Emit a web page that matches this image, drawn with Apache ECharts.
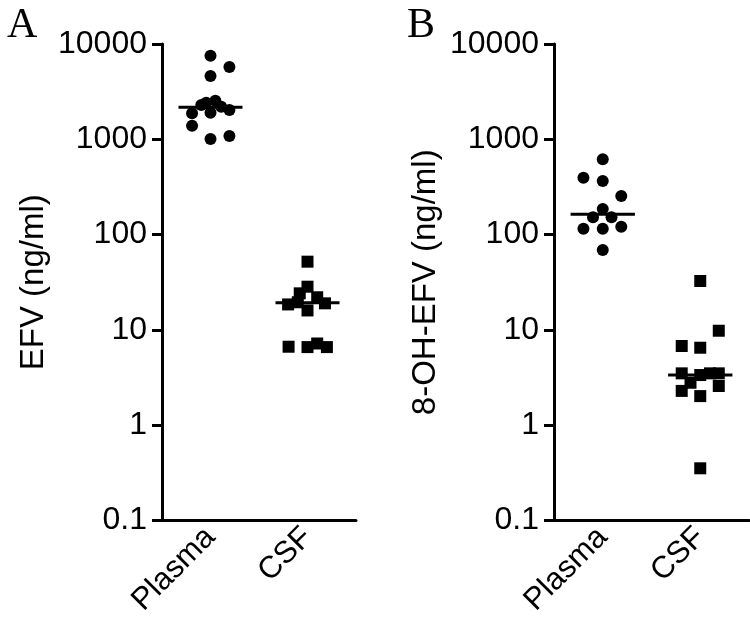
<!DOCTYPE html>
<html><head><meta charset="utf-8">
<script src="https://cdn.jsdelivr.net/npm/echarts@6/dist/echarts.min.js"></script>
<style>html,body{margin:0;padding:0;background:#fff}#c{width:750px;height:623px}</style>
</head><body><div id="c"></div><script>
// ---- data ----
const categories = ['Plasma', 'CSF'];
const yTickLabels = ['0.1', '1', '10', '100', '1000', '10000'];
const panelLetters = ['A', 'B'];
const yNames = ['EFV (ng/ml)', '8-OH-EFV (ng/ml)'];
// [jitter within category (category units), value ng/ml]
const efvPlasma = [[0, 7540], [0.195, 5740], [0, 4620], [0.05, 2541], [-0.044, 2421], [-0.095, 2291], [0.11, 2198], [0.195, 2030], [0, 1901], [-0.19, 1875], [-0.19, 1390], [0.195, 1083], [0, 1007]];
const efvCSF = [[0, 52], [0, 28.4], [-0.08, 24.2], [0.1, 22], [-0.2, 18.5], [-0.1, 19.5], [0.18, 19], [0, 16], [-0.195, 6.66], [0, 6.6], [0.1, 7.2], [0.2, 6.6]];
const ohPlasma = [[0, 617], [-0.198, 395], [0, 365], [0.19, 254], [0, 186], [-0.1, 152], [0.09, 152], [-0.198, 115], [0, 115], [0.19, 121], [0, 68.9]];
const ohCSF = [[0, 32.6], [0.19, 9.8], [-0.19, 6.78], [0, 6.5], [-0.19, 3.5], [0, 3.36], [0.1, 3.5], [0.19, 3.5], [-0.1, 2.79], [0.19, 2.58], [-0.19, 2.29], [0, 2.02], [0, 0.353]];
const medianA = [2166, 19.3];
const medianB = [164, 3.36];

const HALF = 0.33;
const FONT = 'Liberation Sans, Arial, sans-serif';
const chart = echarts.init(document.getElementById('c'), null, {renderer: 'canvas'});

const grids = [
  {left: 162, top: 44, width: 194, height: 476.5},
  {left: 554, top: 44, width: 195, height: 476.5}
];
const xAxes = [], yAxes = [], series = [];
const panels = [
  {plasma: efvPlasma, csf: efvCSF, med: medianA},
  {plasma: ohPlasma, csf: ohCSF, med: medianB}
];
panels.forEach((p, i) => {
  xAxes.push({
    type: 'category', gridIndex: i, data: categories, boundaryGap: true,
    axisLine: {onZero: false, lineStyle: {color: '#000', width: 3}},
    axisTick: {alignWithLabel: true, length: 9, lineStyle: {color: '#000', width: 3}},
    axisLabel: {rotate: 45, fontSize: 31, color: '#000', fontFamily: FONT, margin: 12},
    splitLine: {show: false}
  });
  xAxes.push({type: 'value', gridIndex: i, min: -0.5, max: 1.5, show: false});
  yAxes.push({
    type: 'log', logBase: 10, gridIndex: i, min: 0.1, max: 10000,
    name: yNames[i], nameLocation: 'middle', nameGap: 112,
    nameTextStyle: {fontSize: 33, color: '#000', fontFamily: FONT},
    axisLine: {show: true, onZero: false, lineStyle: {color: '#000', width: 3}},
    axisTick: {show: true, length: 10, lineStyle: {color: '#000', width: 3}},
    axisLabel: {fontSize: 32, color: '#000', fontFamily: FONT, margin: 15,
      formatter: v => yTickLabels[Math.round(Math.log10(v)) + 1]},
    splitLine: {show: false}, minorTick: {show: false}
  });
  const xi = i * 2 + 1;
  series.push({type: 'scatter', xAxisIndex: xi, yAxisIndex: i, symbol: 'circle', symbolSize: 12,
    itemStyle: {color: '#000', opacity: 1}, data: p.plasma.map(d => [d[0], d[1]])});
  series.push({type: 'scatter', xAxisIndex: xi, yAxisIndex: i, symbol: 'rect', symbolSize: 12,
    itemStyle: {color: '#000', opacity: 1}, data: p.csf.map(d => [1 + d[0], d[1]])});
  p.med.forEach((m, k) => {
    series.push({type: 'line', xAxisIndex: xi, yAxisIndex: i, symbol: 'none',
      lineStyle: {color: '#000', width: 3}, data: [[k - HALF, m], [k + HALF, m]], z: 3});
  });
});

chart.setOption({
  animation: false,
  backgroundColor: '#fff',
  title: [
    {text: panelLetters[0], left: 2, top: 0, textStyle: {fontFamily: 'Liberation Serif, Times New Roman, serif', fontSize: 42, fontWeight: 'normal', color: '#000'}},
    {text: panelLetters[1], left: 402, top: 0, textStyle: {fontFamily: 'Liberation Serif, Times New Roman, serif', fontSize: 42, fontWeight: 'normal', color: '#000'}}
  ],
  grid: grids,
  xAxis: xAxes,
  yAxis: yAxes,
  series: series
});
</script></body></html>
